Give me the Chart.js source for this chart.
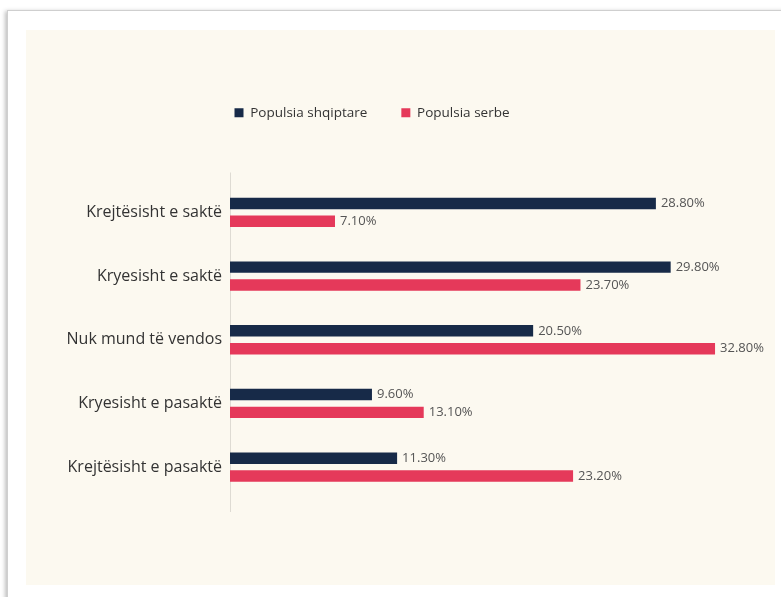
<!DOCTYPE html>
<html lang="sq">
<head>
  <meta charset="UTF-8" />
  <title>Populsia shqiptare / serbe</title>
  <script src="https://cdn.jsdelivr.net/npm/chart.js"></script>
  <style>
    body {
      margin: 0;
      background: #ffffff;
      font-family: 'Open Sans', sans-serif;
    }

    .card {
      position: absolute;
      left: 7px;
      top: 10px;
      width: 800px;
      height: 620px;
      background: #ffffff;
      border: 1px solid #cfcfcf;
      box-shadow: -2px 1px 4px rgba(0,0,0,0.25);
    }

    .panel {
      position: absolute;
      left: 26px;
      top: 30px;
      width: 749px;
      height: 555px;
      background: #fcf9f0;
    }
  </style>
</head>
<body>

  <div class="card"></div>
  <div class="panel">
    <canvas id="chart" width="749" height="555"></canvas>
  </div>

  <script>
    const categories = [
      'Krejtësisht e saktë',
      'Kryesisht e saktë',
      'Nuk mund të vendos',
      'Kryesisht e pasaktë',
      'Krejtësisht e pasaktë'
    ];
    const albanian = [28.8, 29.8, 20.5, 9.6, 11.3];
    const serbian = [7.1, 23.7, 32.8, 13.1, 23.2];

    const navy = '#172a48';
    const pink = '#e5395a';
    const font = "'Open Sans', sans-serif";

    // value labels next to each bar end
    const valueLabels = {
      id: 'valueLabels',
      afterDatasetsDraw(chart) {
        const ctx = chart.ctx;
        ctx.save();
        ctx.font = '13px ' + font;
        ctx.fillStyle = '#555555';
        ctx.textAlign = 'left';
        ctx.textBaseline = 'middle';
        chart.data.datasets.forEach((ds, i) => {
          chart.getDatasetMeta(i).data.forEach((bar, j) => {
            ctx.fillText(ds.data[j].toFixed(2) + '%', bar.x + 5, bar.y);
          });
        });
        ctx.restore();
      }
    };

    // extra room under the legend
    const legendGap = {
      id: 'legendGap',
      beforeInit(chart) {
        const fit = chart.legend.fit;
        chart.legend.fit = function () {
          fit.call(this);
          this.height += 51;
        };
      }
    };

    // axis line a bit longer than the plot area
    const axisLine = {
      id: 'axisLine',
      beforeDatasetsDraw(chart) {
        const { ctx, chartArea } = chart;
        ctx.save();
        ctx.strokeStyle = '#dedbd3';
        ctx.lineWidth = 1;
        ctx.beginPath();
        ctx.moveTo(chartArea.left + 0.5, chartArea.top - 8);
        ctx.lineTo(chartArea.left + 0.5, chartArea.bottom + 13);
        ctx.stroke();
        ctx.restore();
      }
    };

    new Chart(document.getElementById('chart').getContext('2d'), {
      type: 'bar',
      data: {
        labels: categories,
        datasets: [
          {
            label: 'Populsia shqiptare',
            data: albanian,
            backgroundColor: navy,
            borderWidth: 0
          },
          {
            label: 'Populsia serbe',
            data: serbian,
            backgroundColor: pink,
            borderWidth: 0
          }
        ]
      },
      options: {
        indexAxis: 'y',
        responsive: false,
        animation: false,
        categoryPercentage: 0.56,
        barPercentage: 0.64,
        layout: {
          padding: { top: 42, right: 57, bottom: 86, left: 0 }
        },
        plugins: {
          tooltip: { enabled: false },
          legend: {
            position: 'top',
            labels: {
              boxWidth: 9,
              boxHeight: 9,
              padding: 34,
              color: '#333333',
              font: { family: font, size: 13.5 }
            }
          }
        },
        scales: {
          x: {
            min: 0,
            max: 33,
            display: false
          },
          y: {
            grid: { display: false },
            border: { display: false },
            afterFit(scale) { scale.width = 204; },
            ticks: {
              color: '#333333',
              padding: 0,
              font: { family: font, size: 16 }
            }
          }
        }
      },
      plugins: [valueLabels, legendGap, axisLine]
    });
  </script>

</body>
</html>
